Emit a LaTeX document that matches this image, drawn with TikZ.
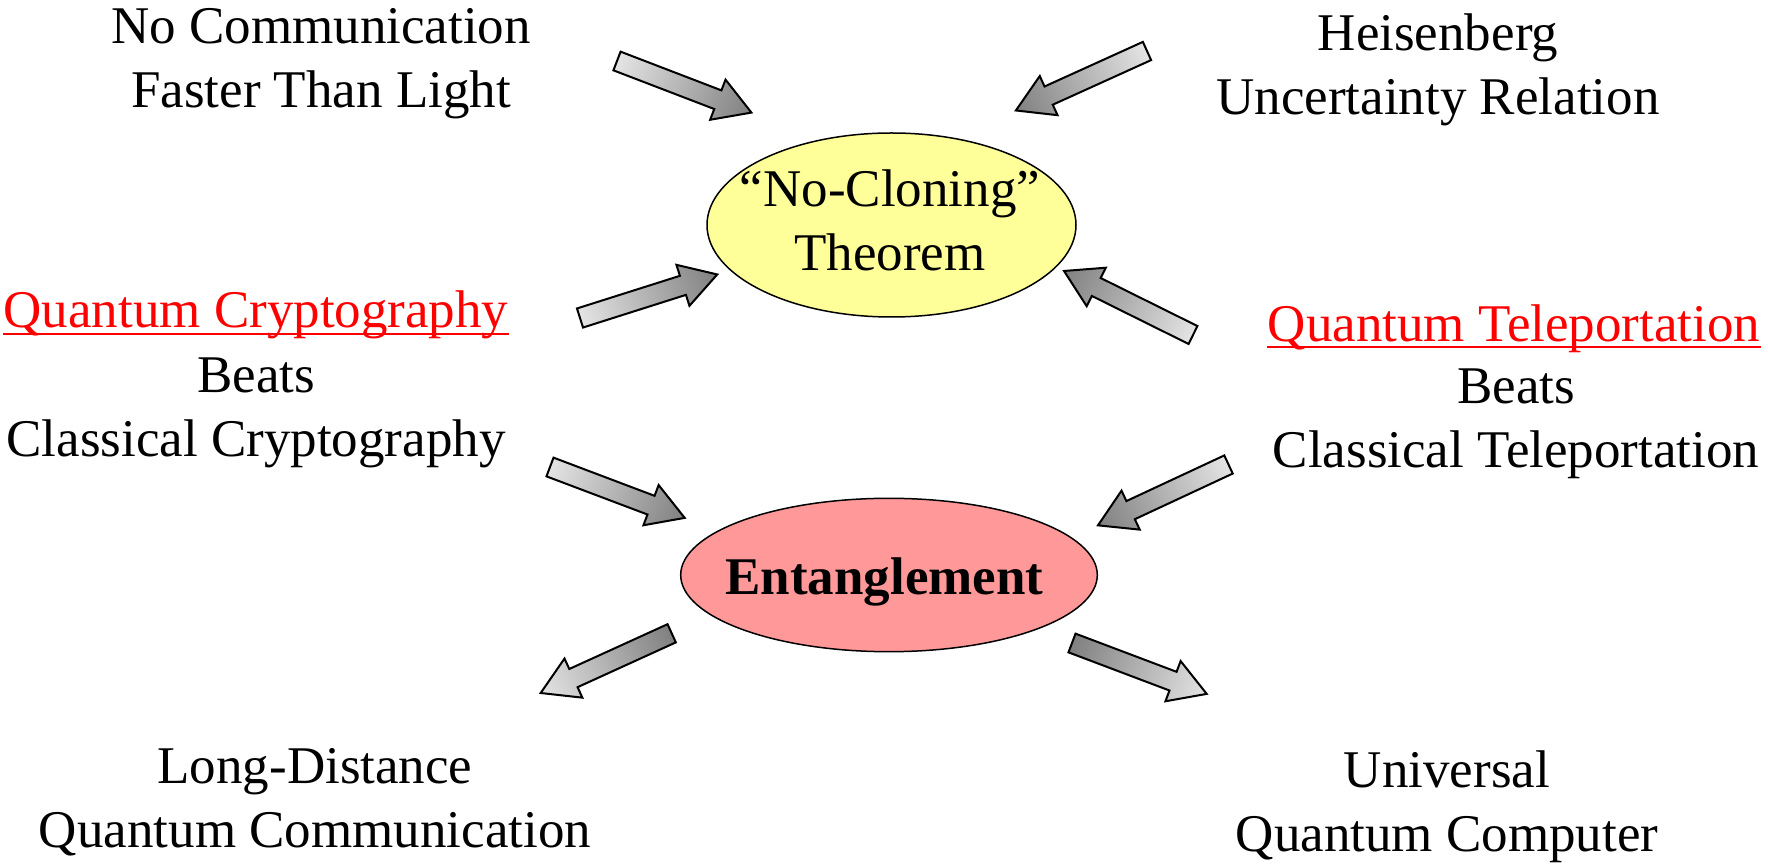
\documentclass[tikz,border=0pt]{standalone}
\usepackage{fontspec}
\setmainfont{Liberation Serif}
\usetikzlibrary{shapes.geometric}
\definecolor{clonefill}{RGB}{255,255,153}
\definecolor{entfill}{RGB}{255,153,153}
\definecolor{arrowlight}{RGB}{228,228,228}
\definecolor{arrowdark}{RGB}{128,128,128}
\tikzset{
  txt/.style={font=\fontsize{26.5}{32}\selectfont, align=center, inner sep=0pt},
  title/.style={txt, text=red, anchor=base},
  bubble/.style={ellipse, draw=black, line width=0.75pt, inner sep=0pt},
  fatarrow/.style={draw=black, line width=1pt, line join=miter}
}
% block arrow: tail coordinate, angle, tail colour, tip colour
\newcommand{\fatarrow}[4]{%
  \begin{scope}[transform canvas={shift={(#1)}, rotate=#2}]
    \shade[fatarrow, left color=#3, right color=#4]
      (0,10) -- (108,10) -- (108,21.5) -- (144,0) -- (108,-21.5) -- (108,-10) -- (0,-10) -- cycle;
  \end{scope}}
\begin{document}
\begin{tikzpicture}[x=0.5pt,y=-0.5pt]
\useasboundingbox (0,0) rectangle (1768,865);
% ellipses
\node[bubble, fill=clonefill, minimum width=184.5pt, minimum height=92pt] (clone) at (891.5,225) {};
\node[bubble, fill=entfill, minimum width=208.3pt, minimum height=76.7pt] (ent) at (889,575) {};
\node[txt] (clonetext) at (890,220) {“No-Cloning”\\Theorem};
\node[txt, font=\fontsize{26.5}{32}\selectfont\bfseries, anchor=base] (enttext) at (884.5,595) {Entanglement};
% outer texts
\node[txt] (nocomm) at (321,64) {No Communication\\Faster Than Light};
\node[txt] (heis) at (1438,70) {Heisenberg\\Uncertainty Relation};
\node[title] (qcrypt) at (256,328) {Quantum Cryptography};
\node[txt] (qcryptbeats) at (256,413) {Beats\\Classical Cryptography};
\node[title] (qtele) at (1514,342) {Quantum Teleportation};
\node[txt] (qtelebeats) at (1516,423.5) {Beats\\Classical Teleportation};
\node[txt] (longdist) at (315,802) {Long-Distance\\Quantum Communication};
\node[txt] (univ) at (1447,807) {Universal\\Quantum Computer};
\draw[red, line width=1.1pt] ([yshift=-3pt]qcrypt.base west) -- ([yshift=-3pt]qcrypt.base east);
\draw[red, line width=1.1pt] ([yshift=-2.5pt]qtele.base west) -- ([yshift=-2.5pt]qtele.base east);
% arrow tails
\coordinate (nocommarrow) at (617,61);
\coordinate (heisarrow) at (1147,51);
\coordinate (qcryptarrow) at (580,318);
\coordinate (qtelearrow) at (1193,335);
\coordinate (beatscarrow) at (550,467);
\coordinate (beatstarrow) at (1228.5,464.5);
\coordinate (longarrow) at (671.7,633.3);
\coordinate (univarrow) at (1072,643);
\fatarrow{nocommarrow}{-21}{arrowlight}{arrowdark}
\fatarrow{heisarrow}{204.4}{arrowlight}{arrowdark}
\fatarrow{qcryptarrow}{17.6}{arrowlight}{arrowdark}
\fatarrow{qtelearrow}{153.6}{arrowlight}{arrowdark}
\fatarrow{beatscarrow}{-20.7}{arrowlight}{arrowdark}
\fatarrow{beatstarrow}{205}{arrowlight}{arrowdark}
\fatarrow{longarrow}{204.5}{arrowdark}{arrowlight}
\fatarrow{univarrow}{-20.7}{arrowdark}{arrowlight}
\end{tikzpicture}
\end{document}
